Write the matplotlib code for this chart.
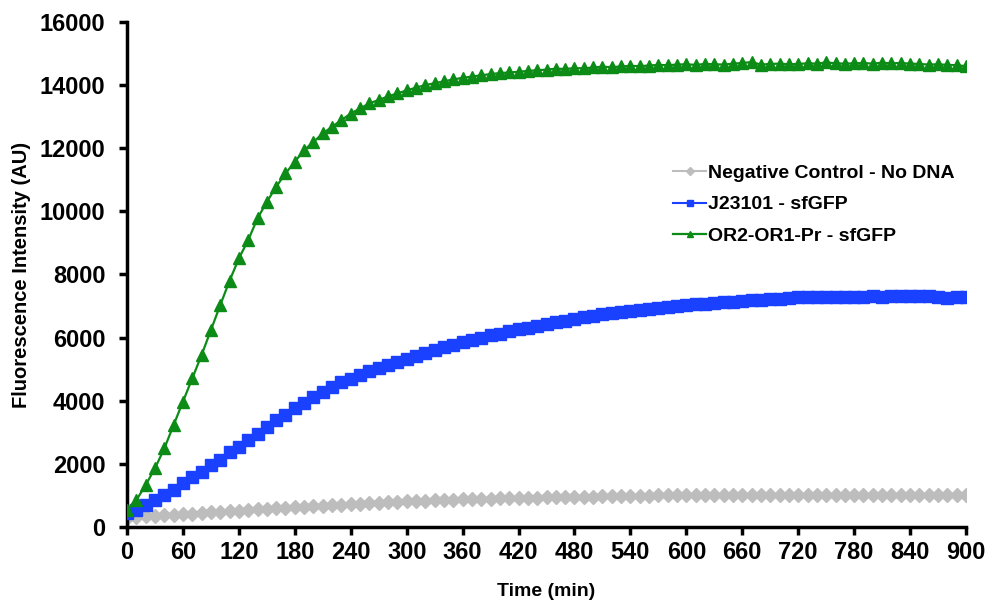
import matplotlib
matplotlib.use("Agg")
import matplotlib.pyplot as plt
import numpy as np

plt.rcParams['font.family'] = ['Liberation Sans', 'DejaVu Sans']
plt.rcParams['font.weight'] = 'bold'

time_min = list(range(0, 901, 10))

negative_control = [
    300, 320, 340, 360, 375, 390, 405, 420, 440, 460,
    480, 500, 520, 540, 560, 580, 600, 615, 630, 645,
    660, 675, 690, 705, 720, 735, 750, 765, 780, 795,
    808, 820, 832, 844, 856, 866, 876, 885, 893, 900,
    906, 912, 918, 924, 930, 936, 942, 948, 954, 960,
    965, 970, 975, 980, 985, 990, 994, 998, 1002, 1005,
    1008, 1010, 1012, 1014, 1015, 1016, 1017, 1018, 1018, 1019,
    1019, 1020, 1020, 1020, 1021, 1021, 1021, 1021, 1020, 1020,
    1020, 1020, 1020, 1019, 1019, 1019, 1018, 1018, 1018, 1017,
    1017,
]

j23101 = [
    450, 540, 700, 855, 1010, 1170, 1380, 1590, 1750, 1960,
    2120, 2380, 2540, 2750, 2960, 3170, 3380, 3550, 3760, 3920,
    4120, 4280, 4440, 4580, 4700, 4820, 4930, 5040, 5140, 5240,
    5330, 5420, 5510, 5600, 5690, 5770, 5850, 5920, 6000, 6070,
    6130, 6200, 6260, 6320, 6380, 6430, 6490, 6540, 6600, 6650,
    6690, 6740, 6780, 6800, 6830, 6860, 6900, 6930, 6960, 7000,
    7030, 7060, 7080, 7100, 7120, 7140, 7170, 7180, 7200, 7210,
    7230, 7250, 7290, 7280, 7290, 7290, 7300, 7280, 7300, 7300,
    7310, 7300, 7310, 7310, 7320, 7310, 7320, 7300, 7250, 7300,
    7300,
]

or2_or1_pr = [
    550, 850, 1330, 1860, 2490, 3230, 3970, 4710, 5450, 6240,
    7030, 7800, 8510, 9090, 9780, 10300, 10780, 11200, 11570, 11940,
    12200, 12470, 12680, 12890, 13100, 13260, 13420, 13530, 13640, 13740,
    13830, 13920, 14000, 14060, 14120, 14180, 14230, 14270, 14310, 14350,
    14380, 14400, 14420, 14450, 14470, 14490, 14520, 14510, 14540, 14530,
    14560, 14580, 14570, 14590, 14610, 14600, 14620, 14640, 14630, 14650,
    14660, 14640, 14670, 14660, 14650, 14680, 14700, 14730, 14650, 14670,
    14680, 14660, 14670, 14690, 14680, 14720, 14690, 14680, 14690, 14700,
    14680, 14710, 14690, 14700, 14680, 14670, 14650, 14660, 14640, 14630,
    14600,
]

labels = ["Negative Control - No DNA", "J23101 - sfGFP", "OR2-OR1-Pr - sfGFP"]
x_ticks = list(range(0, 901, 60))
y_ticks = list(range(0, 16001, 2000))

gray = '#BDBDBD'
blue = '#1A41FF'
green = '#0C8C16'

fig = plt.figure(figsize=(9.9, 6.02), dpi=100)
ax = fig.add_axes([0.1283, 0.1246, 0.8475, 0.8389])

ax.plot(time_min, negative_control, color=gray, marker='D', markersize=7.5,
        linewidth=1.5, label=labels[0], zorder=2)
ax.plot(time_min, j23101, color=blue, marker='s', markersize=9,
        linewidth=1.5, label=labels[1], zorder=3)
ax.plot(time_min, or2_or1_pr, color=green, marker='^', markersize=8,
        linewidth=1.6, label=labels[2], zorder=4)

ax.set_xlim(0, 900)
ax.set_ylim(0, 16000)
ax.set_xticks(x_ticks)
ax.set_yticks(y_ticks)
ax.tick_params(axis='both', direction='out', length=6, width=2.5,
               labelsize=17)
ax.tick_params(axis='x', pad=4)
ax.tick_params(axis='y', pad=9.5)
for lab in ax.get_xticklabels() + ax.get_yticklabels():
    lab.set_fontweight('bold')

for s in ['top', 'right']:
    ax.spines[s].set_visible(False)
for s in ['left', 'bottom']:
    ax.spines[s].set_linewidth(2.5)

ax.set_xlabel("Time (min)", fontsize=14, fontweight='bold', labelpad=14)
ax.set_ylabel("Fluorescence Intensity (AU)", fontsize=14.5, fontweight='bold', labelpad=6)

leg = ax.legend(loc='upper left', bbox_to_anchor=(0.63, 0.753), frameon=False,
                fontsize=14, handlelength=1.7, handletextpad=0.1,
                labelspacing=0.72, markerscale=0.55)
for t in leg.get_texts():
    t.set_fontweight('bold')

fig.savefig("out.png", dpi=100)
